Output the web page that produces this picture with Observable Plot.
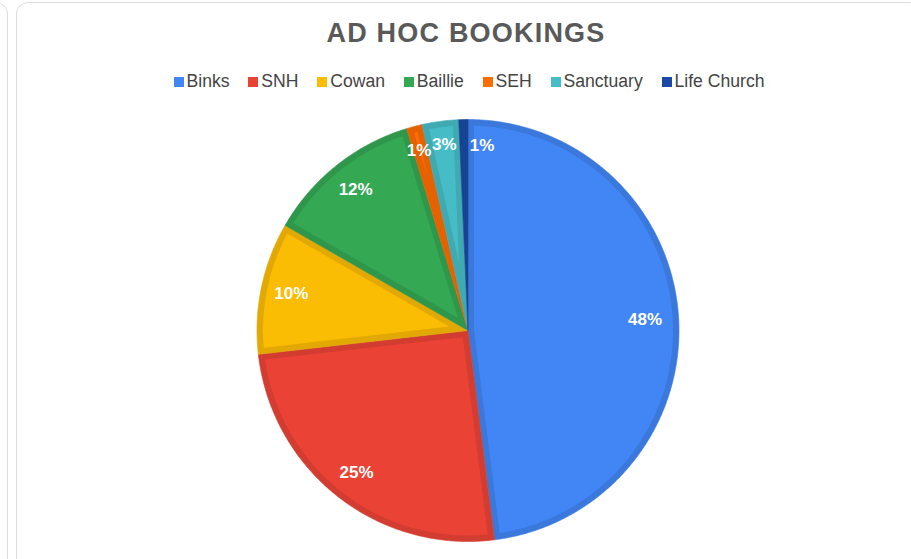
<!DOCTYPE html>
<html>
<head>
<meta charset="utf-8">
<script src="https://cdn.jsdelivr.net/npm/d3@7"></script>
<script src="https://cdn.jsdelivr.net/npm/@observablehq/plot@0.6"></script>
<style>
  html, body { margin: 0; padding: 0; background: #fff; }
  #page { position: relative; width: 911px; height: 559px; overflow: hidden; background: #fff;
          font-family: "Liberation Sans", Arial, sans-serif; }
  .card { position: absolute; border: 1.5px solid #dadce0; border-radius: 12px; box-sizing: border-box; }
  #title { position: absolute; left: 16px; width: 900px; top: 18px; height: 30px; line-height: 30px;
           text-align: center; font-weight: bold; font-size: 27px; color: #595959; letter-spacing: 1.2px; }
  #legend { position: absolute; left: 0; width: 911px; top: 71px; height: 20px; line-height: 20px;
            display: flex; justify-content: center; padding-left: 27px; box-sizing: border-box;
            font-size: 17.6px; color: #444; }
  .item { display: flex; align-items: center; margin: 0 9.4px; white-space: nowrap; }
  .sw { width: 10px; height: 10px; margin-right: 3px; margin-top: 1px; }
  #chart { position: absolute; left: 0; top: 100px; }
</style>
</head>
<body>
<div id="page">
  <div class="card" style="left:-200px; top:2px; width:208px; height:700px;"></div>
  <div class="card" style="left:16px; top:2px; width:905px; height:700px;"></div>
  <div id="title">AD HOC BOOKINGS</div>
  <div id="legend"></div>
  <div id="chart"></div>
</div>
<script>
// ---- data ----
const categories = ["Binks", "SNH", "Cowan", "Baillie", "SEH", "Sanctuary", "Life Church"];
const values = [48.0, 25.2, 10.1, 12.0, 1.2, 2.8, 0.7];
const colors = ["#4285F4", "#EA4335", "#FBBC04", "#34A853", "#FF6D01", "#46BDC6", "#1A4AA3"];
const labelNudgeX = [-3, 0, 0, 0, -3, 0, 18];
const labelNudgeY = [0, 0, 0, 0, -6, -7, -5];

// ---- legend ----
const legend = document.getElementById("legend");
categories.forEach((c, i) => {
  const it = document.createElement("div");
  it.className = "item";
  const sw = document.createElement("span");
  sw.className = "sw";
  sw.style.background = colors[i];
  const t = document.createElement("span");
  t.textContent = c;
  it.appendChild(sw); it.appendChild(t);
  legend.appendChild(it);
});

// ---- geometry from data ----
const W = 911, H = 459, cx = 467.5, cy = 230, R = 211;
const inset = 6 / R;
const total = d3.sum(values);
const arcs = d3.pie().sort(null).value(d => d)(values);

function darker(c) {
  const k = d3.rgb(c);
  return d3.rgb(k.r * 0.9, k.g * 0.9, k.b * 0.9).formatHex();
}
const pt = (rho, a) => ({x: rho * Math.sin(a), y: rho * Math.cos(a)});

const outer = [], inner = [], labels = [];
arcs.forEach((a, i) => {
  const name = categories[i];
  const a0 = a.startAngle, a1 = a.endAngle;
  const n = Math.max(2, Math.ceil((a1 - a0) / (Math.PI / 360)));
  outer.push({name, ...pt(0, 0)});
  for (let k = 0; k <= n; k++) outer.push({name, ...pt(1, a0 + (a1 - a0) * k / n)});
  outer.push({name, ...pt(0, 0)});
  const h = (a1 - a0) / 2;
  const Rin = 1 - inset;
  const apex = inset / Math.sin(h);
  if (apex < Rin - 0.01) {
    const s0 = a0 + Math.asin(inset / Rin), s1 = a1 - Math.asin(inset / Rin);
    const m = (a0 + a1) / 2;
    inner.push({name, ...pt(apex, m)});
    for (let k = 0; k <= n; k++) inner.push({name, ...pt(Rin, s0 + (s1 - s0) * k / n)});
    inner.push({name, ...pt(apex, m)});
  }
  const mid = (a0 + a1) / 2;
  const p = pt(0.855, mid);
  labels.push({name, x: p.x + labelNudgeX[i] / R, y: p.y - labelNudgeY[i] / R,
               text: Math.round(values[i] / total * 100) + "%"});
});

const colorOf = Object.fromEntries(categories.map((c, i) => [c, colors[i]]));
const darkOf = Object.fromEntries(categories.map((c, i) => [c, darker(colors[i])]));

const plot = Plot.plot({
  width: W, height: H, margin: 0,
  style: {fontFamily: "'Liberation Sans', Arial, sans-serif", background: "transparent"},
  x: {domain: [-cx / R, (W - cx) / R], axis: null},
  y: {domain: [-(H - cy) / R, cy / R], axis: null},
  marks: [
    Plot.line(outer, {x: "x", y: "y", z: "name", fill: d => darkOf[d.name], stroke: d => darkOf[d.name], strokeWidth: 0.6}),
    Plot.line(inner, {x: "x", y: "y", z: "name", fill: d => colorOf[d.name], stroke: "none"}),
    Plot.text(labels, {x: "x", y: "y", text: "text", fill: "white", fontSize: 17, fontWeight: "bold"})
  ]
});
document.getElementById("chart").appendChild(plot);
</script>
</body>
</html>
